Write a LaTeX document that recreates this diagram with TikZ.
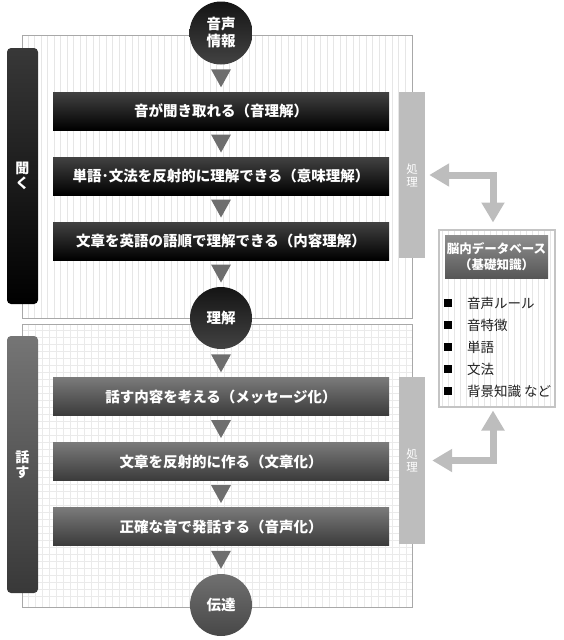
\documentclass[tikz,border=0pt]{standalone}
\usepackage{fontspec}
\setmainfont{Noto Sans CJK JP}
\usetikzlibrary{arrows.meta,calc}

\definecolor{framegray}{HTML}{A8A8A8}
\definecolor{stripegray}{HTML}{E6E6E6}
\definecolor{gridgray}{HTML}{EAEAEA}
\definecolor{trigray}{HTML}{6E6E6E}
\definecolor{procgray}{HTML}{BDBDBD}
\definecolor{dbgray}{HTML}{C4C4C4}

\begin{document}
\begin{tikzpicture}[x=1pt,y=-1pt,
  darkbox/.style={rectangle,inner sep=0pt,minimum width=336pt,minimum height=38pt,
    top color=black!74,bottom color=black,text=white,
    font=\fontsize{14.5}{17}\selectfont\bfseries},
  greybox/.style={darkbox,top color=black!52,bottom color=black!77},
  darkdot/.style={circle,inner sep=0pt,minimum size=63pt,align=center,
    top color=black!92,bottom color=black!74,text=white,
    font=\fontsize{14.5}{17}\selectfont\bfseries},
  greydot/.style={darkdot,top color=black!56,bottom color=black!72},
  sidebar/.style={rectangle,rounded corners=4pt,inner sep=0pt,minimum width=31pt,
    align=center,text=white,font=\fontsize{14}{15}\selectfont\bfseries},
  procbar/.style={rectangle,inner sep=0pt,fill=procgray,minimum width=26pt,
    align=center,text=white,font=\fontsize{11.5}{13}\selectfont},
  tri/.style={fill=trigray},
  linkarrow/.style={draw=procgray,line width=7pt,
    {Triangle[length=20pt,width=22pt]}-{Triangle[length=20pt,width=22pt]}},
  bullet/.style={rectangle,fill=black,inner sep=0pt,minimum size=8pt},
  item/.style={anchor=west,inner sep=0pt,text=black!88,font=\fontsize{13.5}{15}\selectfont}]

\useasboundingbox (0,0) rectangle (563,640);

% panel backgrounds:
\foreach \x in {28,34.5,...,408} \draw[stripegray,line width=0.7pt] (\x,35) -- (\x,318);
\foreach \x in {28,35,...,406} \draw[gridgray,line width=0.6pt] (\x,324) -- (\x,607);
\foreach \y in {330,337,...,602} \draw[gridgray,line width=0.6pt] (22,\y) -- (412,\y);
\draw[framegray] (22,35) rectangle (412,318);
\draw[framegray] (22,324) rectangle (412,607);

% side bars:
\node[sidebar,minimum height=256pt,top color=black!78,bottom color=black] (hear) at (22.5,176) {聞\\く};
\node[sidebar,minimum height=257pt,top color=black!54,bottom color=black!78] (speak) at (22.5,464.5) {話\\す};

% flow, listening:
\node[darkdot] (info) at (221,33) {音声\\情報};
\node[darkbox] (hear1) at (221,111) {音が聞き取れる（音理解）};
\node[darkbox] (hear2) at (221,176) {単語･文法を反射的に理解できる（意味理解）};
\node[darkbox] (hear3) at (221,241) {文章を英語の語順で理解できる（内容理解）};
\node[darkdot,minimum size=62pt] (grasp) at (221,318) {理解};

% flow, speaking:
\node[greybox] (speak1) at (221,396.5) {話す内容を考える（メッセージ化）};
\node[greybox] (speak2) at (221,461.5) {文章を反射的に作る（文章化）};
\node[greybox] (speak3) at (221,526.5) {正確な音で発話する（音声化）};
\node[greydot,minimum size=62pt] (convey) at (221,605) {伝達};

% triangles between steps:
\fill[tri] ($(info.south)!0.5!(hear1.north)$) +(-10,-9) -- +(10,-9) -- +(0,9) -- cycle;
\fill[tri] ($(hear1.south)!0.5!(hear2.north)$) +(-10,-9) -- +(10,-9) -- +(0,9) -- cycle;
\fill[tri] ($(hear2.south)!0.5!(hear3.north)$) +(-10,-9) -- +(10,-9) -- +(0,9) -- cycle;
\fill[tri] ($(hear3.south)!0.5!(grasp.north)$) +(-10,-9) -- +(10,-9) -- +(0,9) -- cycle;
\fill[tri] ($(grasp.south)!0.5!(speak1.north)$) +(-10,-9) -- +(10,-9) -- +(0,9) -- cycle;
\fill[tri] ($(speak1.south)!0.5!(speak2.north)$) +(-10,-9) -- +(10,-9) -- +(0,9) -- cycle;
\fill[tri] ($(speak2.south)!0.5!(speak3.north)$) +(-10,-9) -- +(10,-9) -- +(0,9) -- cycle;
\fill[tri] ($(speak3.south)!0.5!(convey.north)$) +(-10,-9) -- +(10,-9) -- +(0,9) -- cycle;

% processing bars:
\node[procbar,minimum height=166pt] (proc1) at (412,175) {処\\理};
\node[procbar,minimum height=167pt] (proc2) at (412,460.5) {処\\理};

% knowledge database:
\foreach \x in {442,448,...,552} \draw[stripegray,line width=0.7pt] (\x,230) -- (\x,406);
\node[draw=dbgray,line width=2pt,minimum width=116pt,minimum height=177pt,inner sep=0pt] (db) at (496.5,318) {};
\node[rectangle,inner sep=0pt,minimum width=103pt,minimum height=43pt,align=center,
  top color=black!44,bottom color=black!66,text=white,
  font=\fontsize{12.5}{16}\selectfont\bfseries] (dbtitle) at (496.5,256.5) {脳内データベース\\（基礎知識）};
\node[bullet] (sq1) at (448,303) {};
\node[bullet] (sq2) at (448,325) {};
\node[bullet] (sq3) at (448,347) {};
\node[bullet] (sq4) at (448,369) {};
\node[bullet] (sq5) at (448,391) {};
\node[item] (rule) at (467,303) {音声ルール};
\node[item] (feature) at (467,325) {音特徴};
\node[item] (word) at (467,347) {単語};
\node[item] (grammar) at (467,369) {文法};
\node[item] (background) at (467,391) {背景知識 など};

% links to the database:
\draw[linkarrow] ([xshift=4pt]proc1.east) -| ([xshift=-3.5pt,yshift=6pt]db.north);
\draw[linkarrow] ([xshift=7pt]proc2.east) -| ([xshift=-3.5pt,yshift=-3pt]db.south);

\end{tikzpicture}
\end{document}
